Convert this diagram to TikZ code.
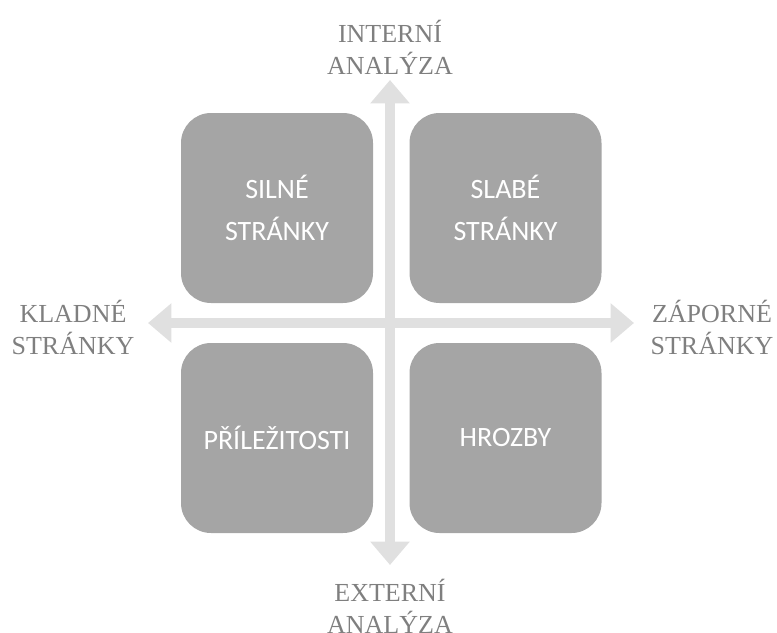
\documentclass[tikz,border=0pt]{standalone}
\usepackage{fontspec}
\setmainfont{Liberation Serif}
\newfontfamily\boxfont{Carlito}
\usetikzlibrary{arrows.meta}
\definecolor{boxgray}{HTML}{A5A5A5}
\definecolor{arrowgray}{HTML}{E0E0E0}
\definecolor{labelgray}{HTML}{7F7F7F}
\begin{document}
\begin{tikzpicture}[x=0.75pt,y=-0.75pt,
  quad/.style={fill=boxgray, draw=none, rounded corners=22.5pt, minimum width=144pt, minimum height=142.5pt,
     text=white, font=\boxfont\fontsize{21}{32}\selectfont, align=center, inner sep=0pt},
  outer/.style={text=labelgray, font=\fontsize{19.5}{24}\selectfont, align=center, inner sep=0pt},
  axis/.style={draw=arrowgray, line width=7.5pt,
     {Triangle[width=28.5pt,length=17.5pt]}-{Triangle[width=28.5pt,length=17.5pt]}}]
\useasboundingbox (0,0) rectangle (777,632);
\coordinate (top) at (390,80);
\coordinate (bottom) at (390,565);
\coordinate (left) at (148,323);
\coordinate (right) at (634,323);
\draw[axis] (top) -- (bottom);
\draw[axis] (left) -- (right);
\node[quad] (s) at (277,208) {SILNÉ\\STRÁNKY};
\node[quad] (w) at (505.5,208) {SLABÉ\\STRÁNKY};
\node[quad] (o) at (277,438) {PŘÍLEŽITOSTI};
\node[quad] (t) at (505.5,438) {HROZBY};
\node[outer] (ia) at (390,47) {INTERNÍ\\ANALÝZA};
\node[outer] (ea) at (390,606) {EXTERNÍ\\ANALÝZA};
\node[outer] (kl) at (73,327) {KLADNÉ\\STRÁNKY};
\node[outer] (zp) at (712,327) {ZÁPORNÉ\\STRÁNKY};
\end{tikzpicture}
\end{document}
